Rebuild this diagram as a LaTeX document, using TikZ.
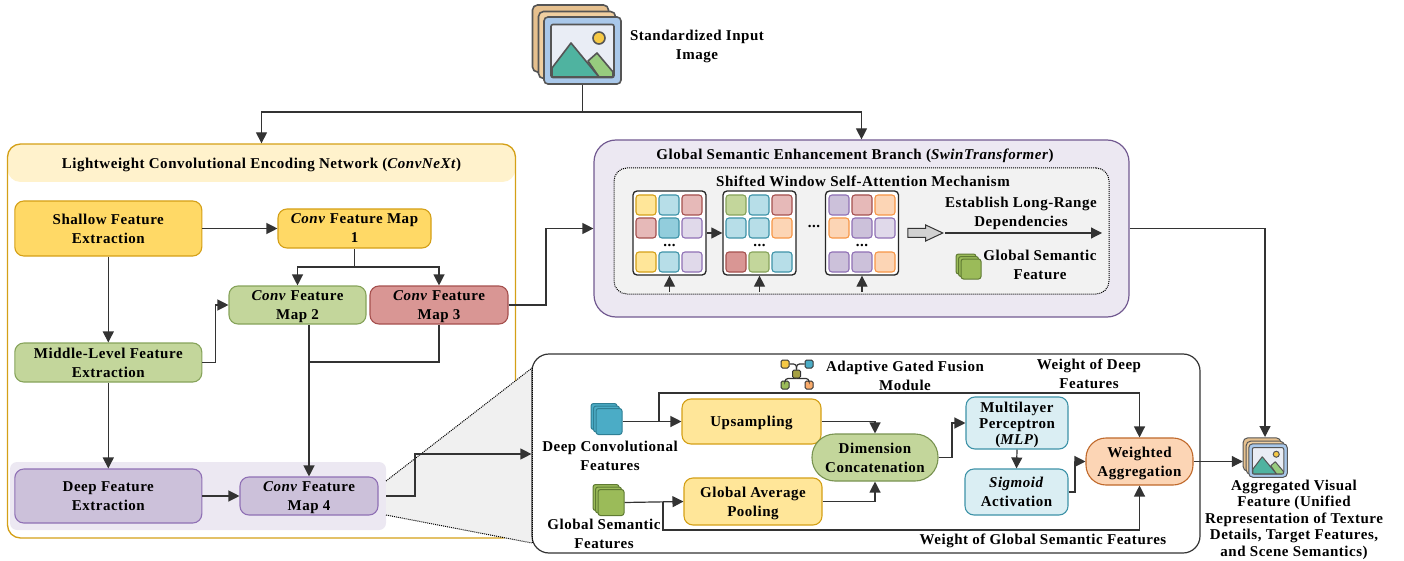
\documentclass[tikz,border=0pt]{standalone}
\usepackage{fontspec}
\setmainfont{Liberation Serif}[LetterSpace=3.5]
\usetikzlibrary{arrows.meta,shapes.arrows}

\definecolor{linedark}{HTML}{333333}
\definecolor{yellowfill}{HTML}{FFD966}
\definecolor{yellowline}{HTML}{D4A017}
\definecolor{sandfill}{HTML}{FFE699}
\definecolor{paleyellow}{HTML}{FFF2CC}
\definecolor{greenfill}{HTML}{C3D69B}
\definecolor{greenline}{HTML}{86A35A}
\definecolor{redfill}{HTML}{D99694}
\definecolor{redline}{HTML}{A5504E}
\definecolor{rosefill}{HTML}{E6B9B8}
\definecolor{purplefill}{HTML}{CCC1DA}
\definecolor{purpleline}{HTML}{8F70B5}
\definecolor{lilacfill}{HTML}{E0D9EA}
\definecolor{bluefill}{HTML}{B7DEE8}
\definecolor{deepblue}{HTML}{92CDDC}
\definecolor{blueline}{HTML}{3E93A8}
\definecolor{icefill}{HTML}{DAEEF3}
\definecolor{orangefill}{HTML}{FCD5B5}
\definecolor{orangeline}{HTML}{F79646}
\definecolor{rustline}{HTML}{C0692B}
\definecolor{tealicon}{HTML}{4BACC6}
\definecolor{tealedge}{HTML}{2F7F94}
\definecolor{oliveicon}{HTML}{9BBB59}
\definecolor{oliveedge}{HTML}{5F7A32}
\definecolor{framefill}{HTML}{A9C8EA}
\definecolor{viewfill}{HTML}{E9EDF5}
\definecolor{tanback}{HTML}{E6C08E}
\definecolor{tanmid}{HTML}{F0CFA0}
\definecolor{peakfill}{HTML}{4FB3A0}
\definecolor{hillfill}{HTML}{97CB7E}
\definecolor{sunfill}{HTML}{F6C945}
\definecolor{iconline}{HTML}{555555}

\tikzset{
  flow/.style={draw=linedark,line width=1.2pt,-{Triangle[length=11pt,width=11pt]}},
  wire/.style={draw=linedark,line width=1.2pt},
  block/.style={draw,rounded corners=9pt,line width=1.1pt,align=center,inner sep=0pt,text depth=0pt},
  cell/.style={draw,rounded corners=3pt,line width=1.1pt,minimum size=20pt,inner sep=0pt},
  cy/.style={cell,fill=sandfill,draw=yellowline},
  cb/.style={cell,fill=bluefill,draw=blueline},
  cd/.style={cell,fill=deepblue,draw=blueline},
  cr/.style={cell,fill=rosefill,draw=redline},
  cs/.style={cell,fill=redfill,draw=redline},
  cl/.style={cell,fill=lilacfill,draw=purpleline},
  cp/.style={cell,fill=purplefill,draw=purpleline},
  co/.style={cell,fill=orangefill,draw=orangeline},
  cg/.style={cell,fill=greenfill,draw=greenline},
  gridbox/.style={draw=black!85,fill=white,rounded corners=4pt,line width=1.3pt,minimum width=73pt,minimum height=84pt,inner sep=0pt},
  hubbox/.style={draw=linedark,rounded corners=1.5pt,line width=1pt,minimum size=8pt,inner sep=0pt},
  tight/.style={align=center,inner sep=0pt,text depth=0pt}
}

% three stacked squares, the front one is named
\newcommand{\layericon}[6]{
  \node[draw=#6,fill=#5,rounded corners=2.5pt,line width=1pt,minimum size=#4,inner sep=0pt] (#1c) at (#2-5,#3-5) {};
  \node[draw=#6,fill=#5,rounded corners=2.5pt,line width=1pt,minimum size=#4,inner sep=0pt] (#1b) at (#2-2.5,#3-2.5) {};
  \node[draw=#6,fill=#5,rounded corners=2.5pt,line width=1pt,minimum size=#4,inner sep=0pt] (#1) at (#2,#3) {};
}

% stacked picture frames, the front one is named
\newcommand{\imageicon}[5]{
  \begin{scope}[shift={(#2,#3)},scale=#4,transform shape,line width=#5]
    \node[draw=iconline,fill=tanback,rounded corners=5pt,minimum width=76pt,minimum height=67pt,inner sep=0pt] (#1back) at (-12,-12) {};
    \node[draw=iconline,fill=tanmid,rounded corners=5pt,minimum width=77pt,minimum height=67pt,inner sep=0pt] (#1mid) at (-5.5,-5.5) {};
    \node[draw=iconline,fill=framefill,rounded corners=4pt,minimum width=77pt,minimum height=67pt,inner sep=0pt] (#1) at (0,0) {};
    \node[draw=iconline,fill=viewfill,rounded corners=2pt,minimum width=63pt,minimum height=53pt,inner sep=0pt] (#1view) at (0,0.5) {};
    \draw[draw=iconline,fill=hillfill,line join=round] (5.5,10.5) -- (14.5,2.5) -- (30.5,21.5) -- (30.5,26.5) -- (16.5,26.5) -- cycle;
    \draw[draw=iconline,fill=peakfill,line join=round] (-30.5,17.5) -- (-11.5,-7.5) -- (16.5,26.5) -- (-30.5,26.5) -- cycle;
    \draw[draw=iconline,fill=sunfill] (16.5,-12.5) circle (6);
  \end{scope}
}

\begin{document}
\begin{tikzpicture}[x=1pt,y=-1pt,every node/.style={font=\fontsize{15}{19}\selectfont\bfseries}]
  \useasboundingbox (0,0) rectangle (1404,561);

  % encoder panel
  \node[fill=paleyellow,rounded corners=13pt,minimum width=508pt,minimum height=38pt,inner sep=0pt,text depth=0pt] (convhead) at (261.5,163) {Lightweight Convolutional Encoding Network (\textit{ConvNeXt})};
  \node[draw=yellowline,rounded corners=13pt,line width=1.3pt,minimum width=508pt,minimum height=394pt,inner sep=0pt] (convpanel) at (261.5,341) {};
  \node[fill=lilacfill!60,rounded corners=7pt,minimum width=376pt,minimum height=68pt,inner sep=0pt] (deepband) at (198,496) {};

  % zoom wedge
  \coordinate (wedgea) at (386,481);
  \coordinate (wedgeb) at (532,368);
  \coordinate (wedgec) at (532,543);
  \coordinate (wedged) at (386,515);
  \fill[black!6] (wedgea) -- (wedgeb) -- (wedgec) -- (wedged) -- cycle;
  \draw[densely dotted,line width=1pt] (wedgea) -- (wedgeb);
  \draw[densely dotted,line width=1pt] (wedged) -- (wedgec);

  \node[block,fill=yellowfill,draw=yellowline,minimum width=187pt,minimum height=55pt] (shallow) at (108.3,228.5) {Shallow Feature\\Extraction};
  \node[block,fill=yellowfill,draw=yellowline,minimum width=153pt,minimum height=39pt] (mapone) at (354.5,228.5) {\textit{Conv} Feature Map\\1};
  \node[block,fill=greenfill,draw=greenline,minimum width=137pt,minimum height=38pt] (maptwo) at (297.5,305) {\textit{Conv} Feature\\Map 2};
  \node[block,fill=redfill,draw=redline,minimum width=138pt,minimum height=38pt] (mapthree) at (439,305) {\textit{Conv} Feature\\Map 3};
  \node[block,fill=greenfill,draw=greenline,minimum width=187pt,minimum height=39pt] (middle) at (108.3,362.5) {Middle-Level Feature\\Extraction};
  \node[block,fill=purplefill,draw=purpleline,minimum width=187pt,minimum height=54pt] (deep) at (108.3,496) {Deep Feature\\Extraction};
  \node[block,fill=purplefill,draw=purpleline,minimum width=138pt,minimum height=38pt] (mapfour) at (309,496) {\textit{Conv} Feature\\Map 4};

  % input
  \imageicon{inputimg}{582.5}{50.5}{1}{1.6pt}
  \node[tight] (inputtext) at (697,45) {Standardized Input\\Image};

  % swin panel
  \node[draw=purpleline!80!black,fill=lilacfill!60,rounded corners=22pt,line width=1.2pt,minimum width=535pt,minimum height=177pt,inner sep=0pt] (swinpanel) at (861.5,228.5) {};
  \node[draw=black,densely dotted,fill=black!5,rounded corners=13pt,line width=1pt,minimum width=495pt,minimum height=126pt,inner sep=0pt] (swinwindow) at (861.5,231) {};
  \node[tight] (swintitle) at (855,154) {Global Semantic Enhancement Branch (\textit{SwinTransformer})};
  \node[tight] (windowtitle) at (863,181) {Shifted Window Self-Attention Mechanism};

  \node[gridbox] (gridone) at (669.5,233) {};
  \node[gridbox] (gridtwo) at (759.5,233) {};
  \node[gridbox] (gridthree) at (862,233) {};

  \foreach \x/\y/\c [count=\n] in {646/205/cy,669/205/cb,692/205/cr,646/228/cr,669/228/cd,692/228/cl,646/262/cy,669/262/cb,692/262/cl}
    \node[\c] (aa\n) at (\x,\y) {};
  \foreach \x/\y/\c [count=\n] in {736/205/cg,759/205/cb,782/205/cr,736/228/cb,759/228/cb,782/228/co,736/262/cs,759/262/cg,782/262/cb}
    \node[\c] (bb\n) at (\x,\y) {};
  \foreach \x/\y/\c [count=\n] in {839/205/cp,862/205/cr,885/205/co,839/228/co,862/228/cp,885/228/cl,839/262/cp,862/262/cp,885/262/co}
    \node[\c] (cc\n) at (\x,\y) {};

  \node[tight] (dotsa) at (669.5,245) {...};
  \node[tight] (dotsb) at (759.5,245) {...};
  \node[tight] (dotsc) at (862,245) {...};
  \node[tight] (dotsd) at (814,226) {...};

  \node[single arrow,draw=linedark,fill=black!18,line width=1pt,inner xsep=0pt,inner ysep=4pt,minimum height=35pt,single arrow head extend=3.5pt,single arrow tip angle=50] (shiftarrow) at (920.5,233) {};
  \node[tight] (longrange) at (1021,211.5) {Establish Long-Range\\Dependencies};
  \coordinate (rangestart) at (945,233);
  \coordinate (rangeend) at (1102,233);
  \layericon{swinicon}{971}{269}{20pt}{oliveicon}{oliveedge}
  \node[tight] (swinicontext) at (1040,265) {Global Semantic\\Feature};

  % fusion panel
  \node[draw=linedark,fill=white,rounded corners=17pt,line width=1.2pt,minimum width=668pt,minimum height=199pt,inner sep=0pt] (fusionpanel) at (866,453.5) {};
  \draw[densely dotted,line width=1pt] (wedgeb) -- (wedgec);

  \node[hubbox,fill=sunfill] (hubyellow) at (785,364) {};
  \node[hubbox,fill=tealicon] (hubblue) at (809,364) {};
  \node[hubbox,fill=oliveicon] (hubgreen) at (785,385) {};
  \node[hubbox,fill=orangeline!80] (huborange) at (809,385) {};
  \node[hubbox,fill=yellow!60!black] (hubcore) at (796.5,374) {};
  \draw[wire,rounded corners=3pt] (hubyellow.east) -| (hubcore.north);
  \draw[wire,rounded corners=3pt] (hubblue.west) -| (hubcore.north);
  \draw[wire,rounded corners=3pt] (hubgreen.north) |- (hubcore.south);
  \draw[wire,rounded corners=3pt] (huborange.north) |- (hubcore.south);
  \node[tight] (fusiontitle) at (905,375.5) {Adaptive Gated Fusion\\Module};
  \node[tight] (deepweight) at (1089,373.5) {Weight of Deep\\Features};

  \layericon{deepicon}{609}{421.5}{26pt}{tealicon}{tealedge}
  \node[tight] (deeptext) at (610,456) {Deep Convolutional\\Features};
  \layericon{globalicon}{611}{502.5}{26pt}{oliveicon}{oliveedge}
  \node[tight] (globaltext) at (604,533.5) {Global Semantic\\Features};

  \node[block,fill=sandfill,draw=yellowline,minimum width=139pt,minimum height=45pt] (upsample) at (751.5,421.5) {Upsampling};
  \node[block,fill=sandfill,draw=yellowline,minimum width=138pt,minimum height=47pt] (pooling) at (753,501.5) {Global Average\\Pooling};
  \node[block,fill=greenfill,draw=greenline!90!black,rounded corners=23pt,minimum width=126pt,minimum height=47pt] (concat) at (875,457.5) {Dimension\\Concatenation};
  \node[block,fill=icefill,draw=blueline,minimum width=102pt,minimum height=52pt] (mlp) at (1017,423) {Multilayer\\[-3pt]Perceptron\\[-3pt](\textit{MLP})};
  \node[block,fill=icefill,draw=blueline,minimum width=103pt,minimum height=46pt] (sigmoid) at (1016.5,492) {\textit{Sigmoid}\\Activation};
  \node[block,fill=orangefill,draw=rustline,rounded corners=20pt,minimum width=107pt,minimum height=47pt] (weighted) at (1139.5,461.5) {Weighted\\Aggregation};
  \node[tight] (globalweight) at (1043,539) {Weight of Global Semantic Features};

  % output
  \imageicon{outimg}{1268}{460.5}{0.5}{1pt}
  \node[tight] (outtext) at (1294,518) {Aggregated Visual\\[-2.5pt]Feature (Unified\\[-2.5pt]Representation of Texture\\[-2.5pt]Details, Target Features,\\[-2.5pt]and Scene Semantics)};

  % connectors, top
  \coordinate (split) at (582.5,112);
  \draw[wire] (inputimg.south) -- (split);
  \draw[flow] (split) -| (convpanel.north);
  \draw[flow] (split) -| (swinpanel.north);

  % connectors, encoder
  \coordinate (onesplit) at (354.5,267);
  \coordinate (threejoin) at (309,362);
  \coordinate (bandout) at (386,496);
  \coordinate (bandelbow) at (415,454);
  \draw[flow] (shallow.east) -- (mapone.west);
  \draw[flow] (shallow.south) -- (middle.north);
  \draw[flow] (middle.south) -- (deep.north);
  \draw[flow] (deep.east) -- (mapfour.west);
  \draw[flow] (middle.east) -- (215.5,362.5) |- (maptwo.west);
  \draw[wire] (mapone.south) -- (onesplit);
  \draw[flow] (onesplit) -| (maptwo.north);
  \draw[flow] (onesplit) -| (mapthree.north);
  \draw[flow] (mapfour.north |- maptwo.south) -- (mapfour.north);
  \draw[wire] (mapthree.south) |- (threejoin);
  \draw[flow] (mapthree.east) -- (546,305) |- (swinpanel.west);
  \draw[flow] (bandout) -| (bandelbow) -- (bandelbow -| fusionpanel.west);

  % connectors, swin
  \draw[flow] (gridone.east) -- (gridtwo.west);
  \draw[flow] (rangestart) -- (rangeend);
  \draw[flow] ([yshift=-16pt]gridone.south) -- (gridone.south);
  \draw[flow] ([yshift=-16pt]gridtwo.south) -- (gridtwo.south);
  \draw[flow] ([yshift=-16pt]gridthree.south) -- (gridthree.south);
  \coordinate (outtop) at (1265,437);
  \draw[flow] (swinpanel.east) -| (outtop);

  % connectors, fusion
  \coordinate (deepbranch) at (659,421.5);
  \coordinate (deeprise) at (659,393);
  \coordinate (globalbranch) at (663,501.5);
  \coordinate (globaldrop) at (663,530);
  \draw[flow] (deepicon.east) -- (upsample.west);
  \draw[flow] (deepbranch) -- (deeprise) -| (weighted.north);
  \draw[flow] (globalicon.east) -- (pooling.west);
  \draw[flow] (globalbranch) -- (globaldrop) -| (weighted.south);
  \draw[flow] (upsample.east) -| (concat.north);
  \draw[flow] (pooling.east) -| (concat.south);
  \draw[flow] (concat.east) -- (952,457.5) |- (mlp.west);
  \draw[flow] (mlp.south) -- (sigmoid.north);
  \draw[flow] (sigmoid.east) -- (1075,492) |- (weighted.west);
  \draw[flow] (weighted.east) -- (weighted.east -| outimgback.west);
\end{tikzpicture}
\end{document}
